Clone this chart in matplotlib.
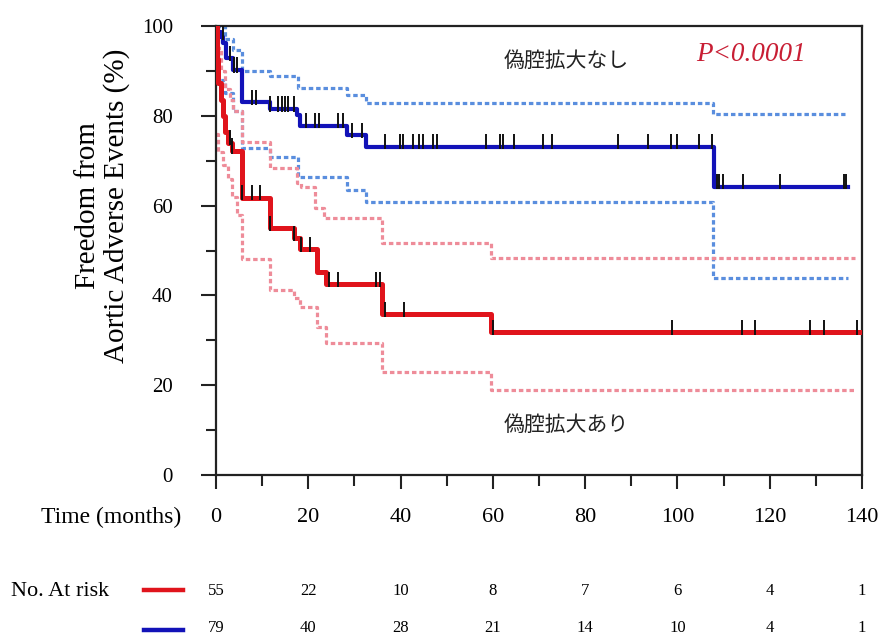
import numpy as np
import matplotlib
matplotlib.use("Agg")
import matplotlib.pyplot as plt
from matplotlib.lines import Line2D
from matplotlib.ticker import MultipleLocator
from matplotlib.transforms import blended_transform_factory

# ---- Kaplan-Meier estimates (months, % event-free) ----
blue_t = [0, 0.4, 1.0, 1.6, 2.2, 3.7, 5.6, 11.7, 17.5, 18.2, 28.3, 32.4, 107.9, 137.0]
blue_s = [100, 98.7, 97.5, 96.2, 92.8, 90.2, 83.0, 81.5, 80.2, 77.8, 75.7, 73.1, 64.2, 64.2]

blue_up_t = [0, 2.0, 3.7, 5.6, 11.7, 17.8, 28.3, 32.4, 107.7, 136.3]
blue_up_s = [100, 97.0, 94.7, 90.0, 88.9, 86.1, 84.6, 82.8, 80.5, 80.5]
blue_lo_t = [0, 0.4, 2.0, 3.7, 5.6, 11.7, 17.8, 28.3, 32.4, 107.7, 137.0]
blue_lo_s = [100, 88.0, 85.0, 81.0, 72.8, 70.9, 66.4, 63.5, 60.7, 43.8, 43.8]

red_t = [0, 0.2, 0.5, 1.0, 1.5, 2.0, 2.7, 3.5, 5.6, 11.6, 16.8, 18.2, 21.8, 23.8, 35.9, 59.7, 139.5]
red_s = [100, 92.7, 87.3, 83.6, 80.0, 76.4, 74.0, 72.2, 61.8, 54.9, 52.7, 50.3, 45.3, 42.5, 35.8, 31.8, 31.8]

red_up_t = [0, 0.5, 1.0, 2.0, 3.0, 3.7, 5.6, 11.7, 17.5, 18.5, 21.5, 23.3, 35.9, 59.7, 138.5]
red_up_s = [100, 95.0, 90.0, 86.0, 83.5, 81.0, 74.2, 68.3, 65.0, 64.2, 59.4, 57.2, 51.7, 48.4, 48.4]
red_lo_t = [0, 0.5, 1.5, 2.5, 3.5, 4.5, 5.6, 11.7, 16.8, 18.2, 21.8, 23.8, 35.9, 59.7, 138.5]
red_lo_s = [76.0, 72.0, 69.0, 66.0, 62.0, 58.0, 48.1, 41.2, 39.5, 37.5, 33.0, 29.3, 23.0, 18.9, 18.9]

# censored observations
blue_cens = [1.5, 3.0, 3.9, 4.5, 7.7, 8.6, 11.8, 13.4, 14.2, 15.0, 15.7, 17.0,
             19.5, 21.5, 22.4, 26.5, 27.6, 29.4, 31.6, 36.6, 39.9, 40.6, 42.8,
             43.9, 44.8, 47.1, 47.8, 58.5, 61.6, 62.1, 64.6, 70.8, 72.8, 87.1,
             93.7, 98.6, 99.8, 104.7, 107.6, 108.5, 109.1, 109.8, 114.2, 122.2,
             136.0, 136.5]
red_cens = [3.0, 3.5, 5.7, 7.7, 9.5, 11.7, 16.9, 18.4, 20.4, 24.5, 26.5, 34.7,
            35.5, 36.6, 40.7, 60.1, 98.9, 113.9, 116.8, 128.7, 131.8, 138.9]

# numbers at risk
risk_times = [0, 20, 40, 60, 80, 100, 120, 140]
risk_red = [55, 22, 10, 8, 7, 6, 4, 1]
risk_blue = [79, 40, 28, 21, 14, 10, 4, 1]

label_no = "偽腔拡大なし"
label_yes = "偽腔拡大あり"
p_text = "P<0.0001"

SERIF = ["Liberation Serif", "DejaVu Serif"]
CJK = ["Noto Sans CJK JP", "DejaVu Sans"]

RED = "#e0141c"
BLUE = "#1212b8"
RED_CI = "#ee8c99"
BLUE_CI = "#5a8ede"

W, H = 885, 644
fig = plt.figure(figsize=(W / 100, H / 100), dpi=100)
ax = fig.add_axes([216 / W, 1 - 475 / H, 646 / W, 449 / H])


def step_value(t, times, vals):
    idx = np.searchsorted(times, t, side="right") - 1
    return np.asarray(vals)[idx]


dash = (0, (1.4, 0.9))
for tt, ss, col in [(blue_up_t, blue_up_s, BLUE_CI), (blue_lo_t, blue_lo_s, BLUE_CI),
                    (red_up_t, red_up_s, RED_CI), (red_lo_t, red_lo_s, RED_CI)]:
    ax.step(tt, ss, where="post", color=col, lw=2.3, linestyle=dash, zorder=2)

ax.step(blue_t, blue_s, where="post", color=BLUE, lw=3.0, zorder=3)
ax.step(red_t, red_s, where="post", color=RED, lw=3.6, zorder=3)

for cens, tt, ss in [(blue_cens, blue_t, blue_s), (red_cens, red_t, red_s)]:
    yv = step_value(np.array(cens), tt, ss)
    ax.vlines(cens, yv - 0.6, yv + 2.8, color="#111111", lw=1.4, zorder=4)

ax.set_xlim(0, 140)
ax.set_ylim(0, 100)
ax.xaxis.set_major_locator(MultipleLocator(20))
ax.xaxis.set_minor_locator(MultipleLocator(10))
ax.yaxis.set_major_locator(MultipleLocator(20))
ax.yaxis.set_minor_locator(MultipleLocator(10))
ax.tick_params(axis="both", which="both", direction="out", color="#222222", width=1.5)
ax.tick_params(axis="x", which="major", length=10, pad=14)
ax.tick_params(axis="x", which="minor", length=8)
ax.tick_params(axis="y", which="major", length=11, pad=20)
ax.tick_params(axis="y", which="minor", length=7)
for lab in ax.get_xticklabels():
    lab.set_fontfamily(SERIF)
    lab.set_fontsize(16)
for lab in ax.get_yticklabels():
    lab.set_fontfamily(SERIF)
    lab.set_fontsize(15)
for sp in ax.spines.values():
    sp.set_linewidth(1.6)
    sp.set_color("#222222")

ax.set_ylabel("Freedom from\nAortic Adverse Events (%)", family=SERIF, fontsize=21,
              linespacing=1.1)
ax.yaxis.set_label_coords(-86 / 646, 0.60)

ax.text(76, 92.3, label_no, family=CJK, fontsize=15, ha="center", va="center", color="#222222")
ax.text(76, 11.1, label_yes, family=CJK, fontsize=15, ha="center", va="center", color="#222222")
ax.text(116, 93.6, p_text, family=SERIF, style="italic", fontsize=19.5, ha="center",
        va="center", color="#c81e34")

# at-risk table
fig.text(181 / W, 1 - 517 / H, "Time (months)", family=SERIF, fontsize=17, ha="right", va="center")
fig.text(11 / W, 1 - 592 / H, "No. At risk", family=SERIF, fontsize=16, ha="left", va="center")
for ypx, col in [(590, RED), (630, BLUE)]:
    fig.add_artist(Line2D([144 / W, 183 / W], [1 - ypx / H, 1 - ypx / H],
                          transform=fig.transFigure, color=col, lw=3.2))
trans = blended_transform_factory(ax.transData, fig.transFigure)
for t, r, b in zip(risk_times, risk_red, risk_blue):
    ax.text(t, 1 - 591 / H, str(r), transform=trans, family=SERIF, fontsize=12,
            ha="center", va="center", clip_on=False)
    ax.text(t, 1 - 628 / H, str(b), transform=trans, family=SERIF, fontsize=12,
            ha="center", va="center", clip_on=False)

fig.savefig("out.png", dpi=100)
